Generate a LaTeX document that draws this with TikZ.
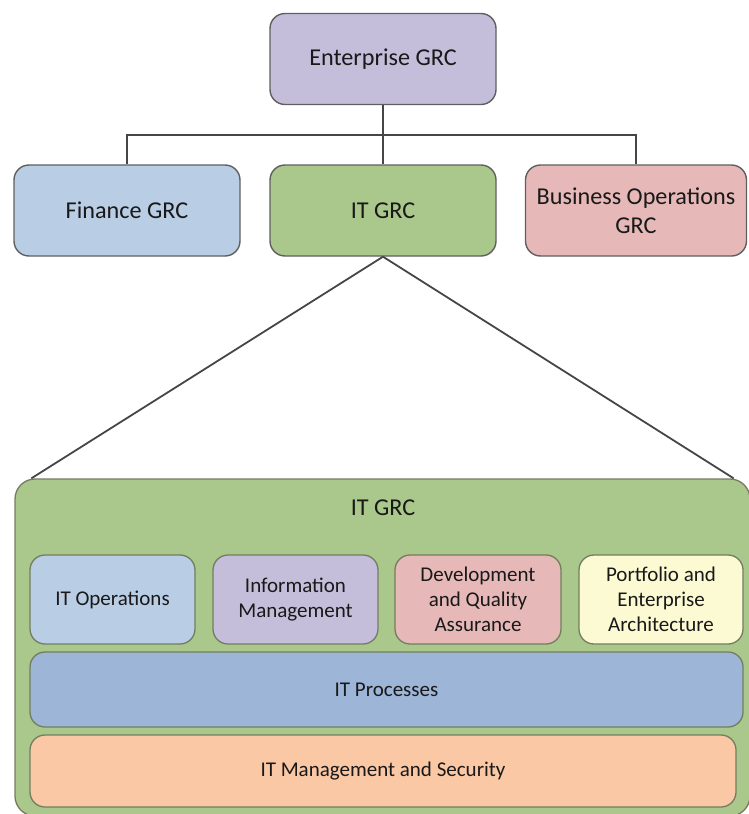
\documentclass[tikz,border=0pt]{standalone}
\usepackage{fontspec}
\setmainfont{Carlito}
\definecolor{lav}{RGB}{197,190,218}
\definecolor{skyb}{RGB}{185,205,228}
\definecolor{leaf}{RGB}{170,200,140}
\definecolor{rose}{RGB}{230,185,184}
\definecolor{cream}{RGB}{252,250,210}
\definecolor{steel}{RGB}{157,181,214}
\definecolor{peach}{RGB}{250,200,165}
\definecolor{rim}{RGB}{95,95,95}
\definecolor{innerrim}{RGB}{115,125,95}
\definecolor{wire}{RGB}{70,70,70}
\definecolor{ink}{RGB}{25,25,25}
\begin{document}
\begin{tikzpicture}[x=1pt,y=-1pt,
  topbox/.style={draw=rim,line width=1.4pt,rounded corners=15pt,
    minimum width=226pt,minimum height=91pt,inner sep=0pt,align=center,
    text=ink,font=\fontsize{24.2}{29.5}\selectfont},
  inbox/.style={draw=innerrim,line width=1.3pt,rounded corners=15pt,
    minimum height=89pt,inner sep=0pt,align=center,
    text=ink,font=\fontsize{21}{25}\selectfont},
  link/.style={draw=wire,line width=2pt}]
\useasboundingbox (0,0) rectangle (748,814);

% upper tier
\node[topbox,fill=lav] (ent) at (383,59) {Enterprise GRC};
\node[topbox,fill=skyb] (fin) at (127,210.5) {Finance GRC};
\node[topbox,fill=leaf] (it) at (383,210.5) {IT GRC};
\node[topbox,fill=rose,minimum width=221pt] (bus) at (636,210.5) {Business Operations\\GRC};

\coordinate (hub) at (383,135);
\draw[link] (ent.south) -- (it.north);
\draw[link] (fin.north) |- (hub) -| (bus.north);

% expanded IT GRC panel
\node[draw=innerrim,line width=1.3pt,fill=leaf,rounded corners=20pt,
  minimum width=735pt,minimum height=337pt,inner sep=0pt] (panel) at (382.5,647.5) {};
\node[text=ink,font=\fontsize{24.2}{29.5}\selectfont] (ptitle) at (383,508) {IT GRC};

\draw[link,line width=1.8pt] (it.south) -- ([xshift=17pt]panel.north west);
\draw[link,line width=1.8pt] (it.south) -- ([xshift=-17pt]panel.north east);

\node[inbox,fill=skyb,minimum width=165pt] (ops) at (112.5,599.5) {IT Operations};
\node[inbox,fill=lav,minimum width=165pt] (info) at (295.5,599.5) {Information\\Management};
\node[inbox,fill=rose,minimum width=166pt] (dev) at (478,599.5) {Development\\and Quality\\Assurance};
\node[inbox,fill=cream,minimum width=164pt] (port) at (661,599.5) {Portfolio and\\Enterprise\\Architecture};
\node[inbox,fill=steel,minimum width=713pt,minimum height=75pt] (proc) at (386.5,689.5) {IT Processes};
\node[inbox,fill=peach,minimum width=706pt,minimum height=72pt] (sec) at (383,771) {IT Management and Security};
\end{tikzpicture}
\end{document}
